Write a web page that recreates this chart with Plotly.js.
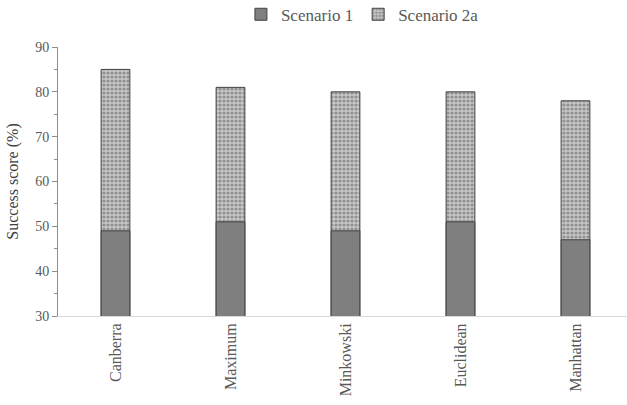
<!DOCTYPE html>
<html><head><meta charset="utf-8">
<script src="https://cdn.plot.ly/plotly-3.0.1.min.js"></script>
<style>body{margin:0}#c{width:627px;height:405px}</style>
</head><body><div id="c"></div>
<script>
const categories = ["Canberra","Maximum","Minkowski","Euclidean","Manhattan"];
const scenario1 = [49, 51, 49, 51, 47];
const scenario2a = [85, 81, 80, 80, 78];

const fam = "Liberation Serif";

const traces = [
  {type: "bar", name: "Scenario 2a", x: categories, y: scenario2a, width: 0.25,
   marker: {color: "#c0c0c0", line: {color: "#404040", width: 1},
            pattern: {shape: ".", fgcolor: "#909090", bgcolor: "#c8c8c8", size: 4, solidity: 0.5}}},
  {type: "bar", name: "Scenario 1", x: categories, y: scenario1, width: 0.25,
   marker: {color: "#7f7f7f", line: {color: "#404040", width: 1}}}
];

const layout = {
  width: 627, height: 405,
  margin: {l: 58, r: 0, t: 47, b: 89, autoexpand: false},
  barmode: "overlay",
  paper_bgcolor: "#fff", plot_bgcolor: "#fff",
  font: {family: fam, color: "#595959", size: 14},
  showlegend: true,
  legend: {orientation: "h", x: 0.535, xanchor: "center", y: 1.12, yanchor: "middle",
           traceorder: "reversed", itemwidth: 30, tracegroupgap: 0,
           font: {family: fam, size: 17, color: "#595959"}},
  xaxis: {type: "category", range: [-0.5, 4.448], tickangle: -90,
          showline: true, linecolor: "#d9d9d9", linewidth: 1, ticks: "",
          tickfont: {family: fam, size: 16, color: "#595959"}, showgrid: false},
  yaxis: {range: [30, 90], dtick: 10, showline: true, linecolor: "#8c8c8c", linewidth: 1,
          ticks: "outside", ticklen: 5, tickcolor: "#8c8c8c", showgrid: false, zeroline: false,
          minor: {dtick: 5, ticks: "outside", ticklen: 3, tickcolor: "#8c8c8c"},
          tickfont: {family: fam, size: 14, color: "#595959"},
          title: {text: "Success score (%)", font: {family: fam, size: 16, color: "#404040"}, standoff: 12}}
};
Plotly.newPlot("c", traces, layout, {displayModeBar: false, staticPlot: true});
</script></body></html>
